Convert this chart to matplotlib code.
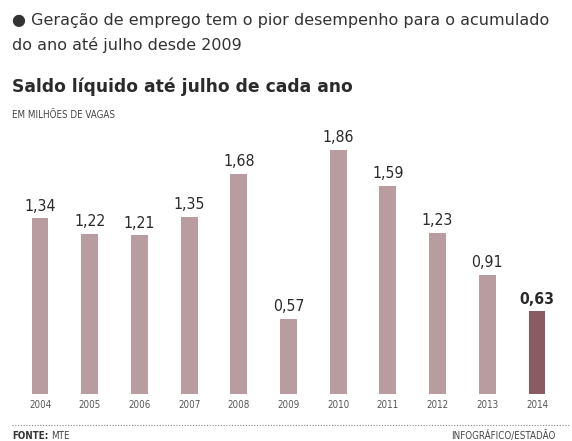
import matplotlib
matplotlib.use("Agg")
import matplotlib.pyplot as plt

years = ["2004", "2005", "2006", "2007", "2008", "2009", "2010", "2011", "2012", "2013", "2014"]
values = [1.34, 1.22, 1.21, 1.35, 1.68, 0.57, 1.86, 1.59, 1.23, 0.91, 0.63]
value_labels = ["1,34", "1,22", "1,21", "1,35", "1,68", "0,57", "1,86", "1,59", "1,23", "0,91", "0,63"]

W, H = 572, 441
fig = plt.figure(figsize=(W / 100, H / 100), dpi=100)
fig.patch.set_facecolor("white")

fam = ["DejaVu Sans"]

def fx(px):
    return px / W

def fy(py):
    return 1 - py / H

# axes: bottom at pixel 394, top at pixel 130
ax = fig.add_axes([0, fy(394), 1, (394 - 130) / H])
ax.set_xlim(-40 / 49.7, (W - 40) / 49.7)
ax.set_ylim(0, 264 / 131)
ax.axis("off")

colors = ["#b99ca0"] * (len(years) - 1) + ["#8b5b64"]
xs = list(range(len(years)))
ax.bar(xs, values, width=0.34, color=colors, edgecolor="none")

for i, (v, lab) in enumerate(zip(values, value_labels)):
    last = i == len(years) - 1
    ax.annotate(lab, (i, v), xytext=(0, 3.5), textcoords="offset points",
                ha="center", va="bottom", fontsize=11.3,
                fontweight="bold" if last else "normal", fontstretch="condensed",
                color="#2a2a2a", family=fam)
    ax.annotate(years[i], (i, 0), xytext=(0, -4), textcoords="offset points",
                ha="center", va="top", fontsize=7, color="#555555",
                fontstretch="condensed", family=fam)

# header texts
fig.text(fx(12), fy(20), "\u25cf Geração de emprego tem o pior desempenho para o acumulado",
         fontsize=11.5, color="#333333", va="center", ha="left", family=fam)
fig.text(fx(12), fy(45), "do ano até julho desde 2009",
         fontsize=11.5, color="#333333", va="center", ha="left", family=fam)
fig.text(fx(12), fy(87), "Saldo líquido até julho de cada ano",
         fontsize=12.3, fontweight="bold", color="#2a2a2a", va="center", ha="left", family=fam)
fig.text(fx(12), fy(115), "EM MILHÕES DE VAGAS",
         fontsize=7.0, color="#444444", va="center", ha="left", family=fam,
         fontstretch="condensed")

# footer
fig.add_artist(plt.Line2D([fx(12), fx(570)], [fy(425), fy(425)], transform=fig.transFigure,
                          color="#888888", linewidth=0.8, linestyle=(0, (1, 1.5))))
fig.text(fx(12), fy(436), "FONTE:", fontsize=7.0, fontweight="bold", color="#333333",
         va="center", ha="left", family=fam, fontstretch="condensed")
fig.text(fx(51), fy(436), "MTE", fontsize=7.0, color="#444444",
         va="center", ha="left", family=fam, fontstretch="condensed")
fig.text(fx(556), fy(436), "INFOGRÁFICO/ESTADÃO", fontsize=7.0, color="#444444",
         va="center", ha="right", family=fam, fontstretch="condensed")

fig.savefig("out.png", dpi=100, facecolor="white")
